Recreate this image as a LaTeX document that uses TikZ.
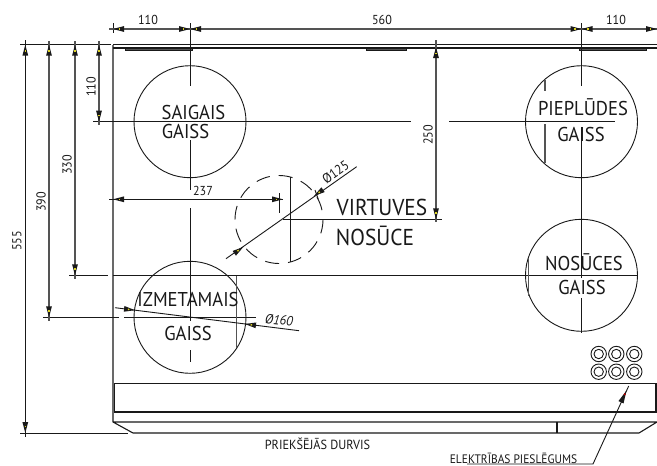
\documentclass[tikz,border=0pt]{standalone}
\usepackage{fontspec}
\setmainfont[FakeStretch=0.93]{PT Sans}
\newcommand{\dimtip}[3]{\begin{scope}[shift={(#1,#2)},rotate=#3]
\fill[tipcol] (0,0) -- (-11,2.9) -- (-11,-2.9) -- cycle;
\fill[yellow!85!black] (-7.2,-0.7) rectangle (-5.6,0.7);
\end{scope}}
\tikzset{
  thinln/.style={line width=0.9pt,draw=inkc},
  bodyln/.style={line width=1.1pt,draw=inkc},
  heavyln/.style={line width=1.5pt,draw=inkc},
  dimln/.style={line width=1.2pt,draw=dimc},
  grayln/.style={line width=1.1pt,draw=dimc},
  label/.style={inner sep=0pt,text=inkc,font=\fontsize{13}{14}\selectfont},
  bigl/.style={inner sep=0pt,text=inkc,font=\fontsize{20}{22}\selectfont},
  vbig/.style={inner sep=0pt,text=inkc,font=\fontsize{23}{25}\selectfont},
  smalla/.style={inner sep=0pt,text=inkc,font=\fontsize{13.2}{14}\selectfont},
  smallb/.style={inner sep=0pt,text=inkc,font=\fontsize{12.3}{13}\selectfont},
  upr/.style={inner sep=0pt,text=inkc,font=\fontsize{13.5}{14}\selectfont},
  ital/.style={inner sep=0pt,text=inkc,font=\fontsize{13.5}{14}\selectfont\itshape}
}
\definecolor{inkc}{gray}{0.1}
\definecolor{dimc}{gray}{0.33}
\colorlet{tipcol}{inkc}
\begin{document}
\begin{tikzpicture}[x=1pt,y=-1pt]
\useasboundingbox[fill=white] (0,0) rectangle (657,466);
% body
\draw[heavyln] (113,44.7) -- (657,44.7);
\draw[bodyln] (113,48) -- (657,48);
\draw[bodyln] (113,45) -- (113,422) -- (133,433) -- (639,433) -- (657,422) -- (113,422);
\draw[bodyln] (114,383.7) -- (656,383.7) -- (656,412) -- (114,412);
\draw[heavyln] (114.5,383.7) -- (114.5,412);
\draw[heavyln] (557,422) -- (557,433);
\foreach \a/\b in {125/192.5,366/406,579/646}{
  \draw[thinln,fill=dimc] (\a,48) rectangle (\b,50.5);
}
% circles
\foreach \cx/\cy/\nm in {190/121.7/sa,581.5/121.7/pi,581.5/275.3/no,190/317.3/iz}{
  \draw[thinln] (\cx,\cy) circle (56);
}
\draw[thinln,dash pattern=on 14pt off 9pt] (279,219.5) circle (44);
% six rings
\foreach \cx in {598.7,616.3,634.3}{\foreach \cy in {354,371.7}{
  \draw[thinln] (\cx,\cy) circle (7.7);
  \draw[thinln] (\cx,\cy) circle (4.7);
}}
% centre lines
\draw[thinln] (93,121.7) -- (411,121.7);
\draw[thinln] (449,121.7) -- (615,121.7);
\draw[thinln] (190,23) -- (190,86);
\draw[thinln] (190,140) -- (190,190);
\draw[thinln] (190,208) -- (190,321);
\draw[thinln] (190,350) -- (190,362);
\draw[thinln] (581.5,23) -- (581.5,86);
\draw[thinln] (581.5,127) -- (581.5,278);
\draw[thinln] (581.5,298) -- (581.5,333);
\draw[thinln] (113,275.3) -- (637,275.3);
\draw[thinln] (69,275.3) -- (108,275.3);
\draw[thinln] (43,317.3) -- (119,317.3);
\draw[thinln] (124,317.3) -- (256,317.3);
\draw[thinln] (20,44.7) -- (111,44.7);
\draw[thinln] (20,433) -- (128,433);
\draw[thinln] (290.3,177) -- (290.3,262);
\draw[thinln] (283,219.3) -- (442,219.3);
% inner gray verticals
\draw[grayln] (545,80) -- (545,90.7);
\draw[grayln] (545,124) -- (545,163);
\draw[grayln] (236.7,276) -- (236.7,348);
\draw[grayln] (528.7,258) -- (528.7,296);
% top dimension
\draw[thinln] (113,23) -- (113,33);
\draw[dimln] (109,29) -- (657,29);
\dimtip{113}{29}{180}\dimtip{190}{29}{0}\dimtip{190}{29}{180}
\dimtip{581.5}{29}{0}\dimtip{581.5}{29}{180}\dimtip{657}{29}{0}
% left dimensions
\draw[thinln] (25.3,40) -- (25.3,437);
\draw[dimln] (49,41) -- (49,321);
\draw[dimln] (75,41) -- (75,279);
\draw[dimln] (99,41) -- (99,125);
\dimtip{25.3}{44.7}{90}\dimtip{25.3}{433}{-90}
\dimtip{49}{44.7}{90}\dimtip{49}{317.3}{-90}
\dimtip{75}{44.7}{90}\dimtip{75}{275.3}{-90}
\dimtip{99}{44.7}{90}\dimtip{99}{121.7}{-90}
% 250
\draw[dimln] (436,40) -- (436,222);
\dimtip{436}{47}{90}\dimtip{436}{219.3}{-90}
% 237
\draw[thinln] (109,199.3) -- (283,199.3);
\dimtip{113}{199.3}{180}\dimtip{283}{199.3}{0}
\draw[thinln] (279,193) -- (279,213);
% 125 diagonal
\draw[thinln] (226,258.7) -- (356.7,166.7);
\dimtip{243.3}{247}{35}\dimtip{314}{196}{215}
\draw[thinln] (315,190) -- (318.3,199.3);
% 160 diagonal
\draw[thinln] (115,307.7) -- (299,330.7);
\dimtip{135}{310.2}{-7}\dimtip{245}{324}{173}
% leader
\coordinate (ldA) at (467,464);
\coordinate (ldB) at (593,464);
\coordinate (ldC) at (628.7,386);
\draw[thinln] (ldA) -- (ldB) -- (ldC);
\begin{scope}[shift={(626.5,390.5)},rotate=65]
\fill[inkc] (0,0) -- (-13,2.8) -- (-13,-2.8) -- cycle;
\fill[red!75!black] (-5,-0.8) rectangle (-3.4,0.8);
\end{scope}
% dimension labels
\node[label] (d1) at (148,20) {110};
\node[label] (d2) at (382,20) {560};
\node[label] (d3) at (616,20) {110};
\node[label,rotate=90] (d4) at (91,87) {110};
\node[label,rotate=90] (d5) at (67,165) {330};
\node[label,rotate=90] (d6) at (41,202) {390};
\node[label,rotate=90] (d7) at (17,241) {555};
\node[label,rotate=90] (d8) at (428,135) {250};
\node[label] (d9) at (203,191) {237};
\node[upr,rotate=35] (d10) at (335.5,172.5) {Ø125};
\node[ital,rotate=-6] (d11) at (279,320) {Ø160};
% names
\node[bigl] (t1) at (193.5,112) {SAIGAIS};
\node[bigl] (t2) at (185.5,131) {GAISS};
\node[bigl] (t3) at (583,107) {PIEPLŪDES};
\node[bigl] (t4) at (581,134) {GAISS};
\node[bigl] (t5) at (584,262) {NOSŪCES};
\node[bigl] (t6) at (582,287) {GAISS};
\node[bigl] (t7) at (188,299) {IZMETAMAIS};
\node[bigl] (t8) at (188,333) {GAISS};
\node[vbig] (t9) at (382,207.7) {VIRTUVES};
\node[vbig] (t10) at (375,236) {NOSŪCE};
\node[smalla] (t11) at (317.5,444) {PRIEKŠĒJĀS DURVIS};
\node[smallb] (t12) at (513.5,458) {ELEKTRĪBAS PIESLĒGUMS};
\end{tikzpicture}
\end{document}
